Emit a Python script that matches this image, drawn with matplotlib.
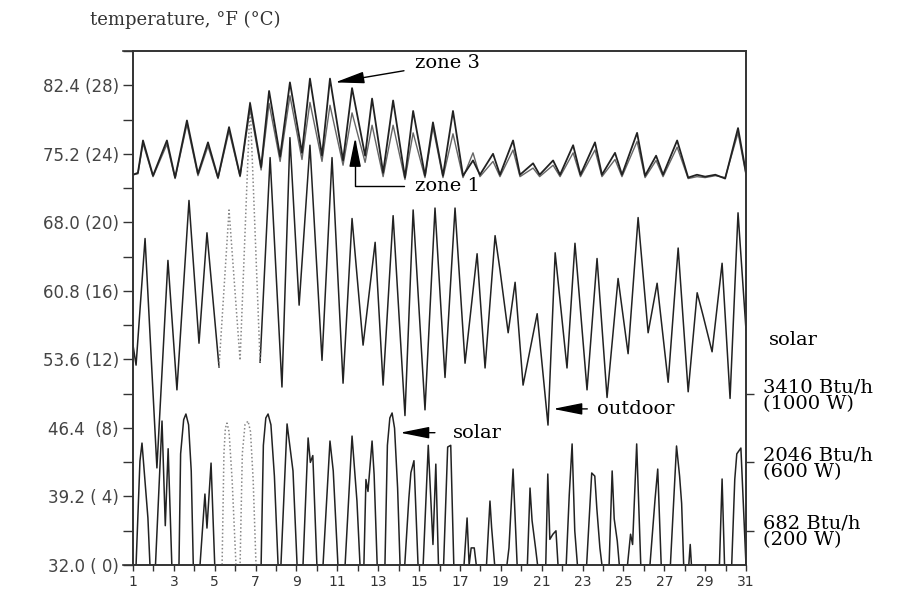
import numpy as np
import matplotlib
matplotlib.use("Agg")
import matplotlib.pyplot as plt

# ─── data ────────────────────────────────────────────────────────────────────

# outdoor temperature, °F (daily peaks / troughs)
outdoor_day = [1.00, 1.15, 1.59, 2.17, 2.71, 3.15, 3.74, 4.23, 4.62, 5.21,
               5.70, 6.24, 6.73, 7.22, 7.71, 8.29, 8.68, 9.13, 9.66, 10.25,
               10.74, 11.28, 11.72, 12.26, 12.85, 13.24, 13.73, 14.31, 14.71, 15.29,
               15.78, 16.27, 16.76, 17.25, 17.84, 18.23, 18.72, 18.96, 19.36, 19.70,
               20.09, 20.78, 21.31, 21.66, 22.24, 22.63, 23.22, 23.71, 24.20, 24.74,
               25.23, 25.72, 26.21, 26.65, 27.19, 27.68, 28.17, 28.61, 28.90, 29.34,
               29.83, 30.22, 30.61, 31.00]
outdoor_temp = [55.1, 53.0, 66.3, 42.2, 64.0, 50.4, 70.3, 55.3, 66.9, 52.8,
                69.3, 53.5, 80.6, 53.3, 74.8, 50.7, 76.9, 59.3, 76.1, 53.5,
                74.8, 51.1, 68.4, 55.1, 65.9, 50.9, 68.7, 47.7, 69.3, 48.3,
                69.5, 51.7, 69.5, 53.2, 64.7, 52.7, 66.6, 63.0, 56.4, 61.7,
                50.9, 58.4, 46.7, 64.8, 52.7, 65.8, 50.4, 64.2, 49.6, 62.1,
                54.2, 68.5, 56.4, 61.6, 51.2, 65.3, 50.2, 60.6, 58.2, 54.4,
                63.7, 49.5, 69.0, 56.7]

# zone temperatures, °F
zone_day = [1.00, 1.24, 1.49, 1.98, 2.66, 3.06, 3.64, 4.18, 4.67, 5.16,
            5.70, 6.24, 6.73, 7.27, 7.66, 8.20, 8.68, 9.27, 9.66, 10.25,
            10.64, 11.28, 11.72, 12.36, 12.70, 13.24, 13.73, 14.31, 14.71, 15.29,
            15.68, 16.17, 16.66, 17.15, 17.64, 17.98, 18.62, 18.96, 19.60, 19.94,
            20.58, 20.90, 21.56, 21.90, 22.54, 22.90, 23.61, 23.95, 24.59, 24.93,
            25.67, 26.06, 26.60, 26.94, 27.63, 28.17, 28.60, 29.00, 29.50, 29.98,
            30.61, 31.00]
zone3_temp = [73.0, 73.2, 76.6, 72.9, 76.6, 72.7, 78.7, 73.1, 76.4, 72.7,
              78.0, 72.9, 80.5, 73.8, 81.8, 74.9, 82.7, 75.3, 83.1, 75.0,
              83.1, 74.5, 82.1, 75.0, 81.0, 73.2, 80.8, 72.7, 79.7, 72.9,
              78.5, 72.9, 79.7, 72.9, 74.5, 73.0, 75.2, 73.0, 76.6, 73.0,
              74.2, 73.0, 74.5, 73.0, 76.1, 73.0, 76.4, 73.0, 75.3, 73.0,
              77.4, 72.9, 75.0, 73.0, 76.6, 72.7, 73.0, 72.8, 73.0, 72.6,
              77.9, 73.2]
zone1_temp = [73.0, 73.1, 76.3, 72.8, 76.2, 72.6, 78.3, 72.9, 76.0, 72.6,
              77.6, 72.8, 80.0, 73.5, 80.5, 74.4, 81.3, 74.6, 80.6, 74.4,
              80.3, 74.0, 79.5, 74.3, 78.2, 72.8, 78.2, 72.5, 77.4, 72.7,
              78.0, 72.7, 77.3, 72.7, 75.3, 72.8, 74.4, 72.8, 75.6, 72.8,
              73.7, 72.8, 74.0, 72.8, 75.3, 72.8, 75.6, 72.8, 74.6, 72.8,
              76.5, 72.7, 74.5, 72.8, 75.9, 72.6, 72.8, 72.7, 72.9, 72.7,
              77.4, 73.0]

# solar radiation, W
solar_day = [1.00, 1.15, 1.34, 1.44, 1.73, 1.83,
             2.10, 2.42, 2.58, 2.72, 2.90,
             3.25, 3.33, 3.48, 3.59, 3.72, 3.85, 3.95,
             4.28, 4.52, 4.62, 4.82, 5.00,
             5.36, 5.45, 5.52, 5.60, 5.70, 5.85, 6.04,
             6.24, 6.35, 6.48, 6.63, 6.75, 6.88, 7.02,
             7.27, 7.38, 7.50, 7.61, 7.75, 7.92, 8.10,
             8.24, 8.54, 8.83, 9.03,
             9.32, 9.57, 9.68, 9.80, 10.00,
             10.30, 10.64, 10.80, 11.03,
             11.38, 11.72, 11.96, 12.11,
             12.30, 12.40, 12.50, 12.70, 12.80, 12.95,
             13.33, 13.45, 13.57, 13.68, 13.80, 13.95, 14.07,
             14.30, 14.50, 14.60, 14.75, 14.95,
             15.20, 15.45, 15.68, 15.82, 15.95,
             16.20, 16.40, 16.55, 16.70,
             17.20, 17.35, 17.45, 17.55, 17.70, 17.80,
             18.30, 18.47, 18.55, 18.70,
             19.30, 19.40, 19.60, 19.80,
             20.30, 20.43, 20.53, 20.70, 20.80,
             21.20, 21.30, 21.40, 21.55, 21.70, 21.80,
             22.20, 22.35, 22.49, 22.62, 22.75,
             23.20, 23.45, 23.60, 23.70, 23.85, 23.95,
             24.30, 24.45, 24.55, 24.70, 24.80,
             25.20, 25.35, 25.45, 25.65, 25.85,
             26.30, 26.55, 26.68, 26.85,
             27.30, 27.60, 27.75, 27.85, 27.95,
             28.20, 28.27, 28.33,
             29.70, 29.83, 29.95,
             30.30, 30.45, 30.55, 30.75, 31.00]
solar_w = [0, 0, 608, 713, 275, 0,
           0, 842, 230, 680, 0,
           0, 650, 850, 883, 820, 550, 0,
           0, 415, 216, 596, 0,
           0, 650, 800, 830, 780, 500, 0,
           0, 650, 820, 842, 780, 500, 0,
           0, 700, 860, 883, 820, 520, 0,
           0, 825, 550, 0,
           0, 743, 600, 640, 0,
           0, 725, 550, 0,
           0, 754, 374, 0,
           0, 500, 430, 725, 530, 0,
           0, 700, 860, 889, 800, 450, 0,
           0, 390, 540, 610, 0,
           0, 700, 120, 590, 0,
           0, 690, 700, 0,
           0, 275, 0, 100, 100, 0,
           0, 374, 220, 0,
           0, 100, 561, 0,
           0, 450, 260, 100, 0,
           0, 532, 150, 180, 200, 0,
           0, 410, 708, 200, 0,
           0, 538, 520, 330, 100, 0,
           0, 550, 270, 140, 0,
           0, 180, 120, 708, 0,
           0, 386, 561, 0,
           0, 696, 520, 360, 0,
           0, 120, 0,
           0, 503, 0,
           0, 500, 650, 684, 0]

# days with missing (dotted) records
gap_outdoor = (5.21, 7.22)
gap_solar = (5.00, 7.27)

# axis ticks
temp_ticks = [32.0, 39.2, 46.4, 53.6, 60.8, 68.0, 75.2, 82.4]
temp_labels = ["32.0 ( 0)", "39.2 ( 4)", "46.4  (8)", "53.6 (12)",
               "60.8 (16)", "68.0 (20)", "75.2 (24)", "82.4 (28)"]
day_ticks = list(range(1, 32, 2))
solar_ticks = [200, 600, 1000]
solar_labels = ["682 Btu/h\n(200 W)", "2046 Btu/h\n(600 W)", "3410 Btu/h\n(1000 W)"]

# ─── figure ──────────────────────────────────────────────────────────────────

W, H = 902, 595
fig = plt.figure(figsize=(W / 100, H / 100), dpi=100)
ax = fig.add_axes([133 / W, 1 - 565 / H, 613 / W, 514 / H])
ax2 = ax.twinx()

ink = "#222222"
serif = "DejaVu Serif"


def split_gap(days, vals, gap):
    days = np.asarray(days)
    vals = np.asarray(vals, dtype=float)
    lo, hi = gap
    a = days <= lo
    b = (days >= lo) & (days <= hi)
    c = days >= hi
    return (days[a], vals[a]), (days[b], vals[b]), (days[c], vals[c])


# outdoor
pre, mid, post = split_gap(outdoor_day, outdoor_temp, gap_outdoor)
for d, v in (pre, post):
    ax.plot(d, v, color=ink, lw=1.1)
ax.plot(*mid, color="#888888", lw=1.1, ls=(0, (1, 1.5)))

# zones
ax.plot(zone_day, zone1_temp, color="#666666", lw=1.0)
ax.plot(zone_day, zone3_temp, color=ink, lw=1.3)

# solar on the right scale
pre, mid, post = split_gap(solar_day, solar_w, gap_solar)
for d, v in (pre, post):
    ax2.plot(d, v, color=ink, lw=1.1)
ax2.plot(*mid, color="#888888", lw=1.1, ls=(0, (1, 1.5)))

# ─── axes styling ────────────────────────────────────────────────────────────

ax.set_xlim(1, 31)
ax.set_ylim(32, 85.93)
ax2.set_ylim(0, 3006)

ax.set_xticks(day_ticks)
ax.set_xticks(range(2, 31, 2), minor=True)
ax.set_yticks(temp_ticks)
ax.set_yticklabels(temp_labels)
ax.set_yticks([t + 3.6 for t in temp_ticks], minor=True)
ax.tick_params(axis="y", which="both", direction="out", length=7, width=1,
               labelsize=12, labelcolor="#444444", color="#333333", pad=3)
ax.tick_params(axis="x", which="both", direction="out", length=4, width=1,
               labelsize=10, labelcolor="#333333", color="#333333", pad=3)

ax2.set_yticks(solar_ticks)
ax2.set_yticklabels(solar_labels)
ax2.tick_params(axis="y", direction="out", length=6, width=1, labelsize=14,
                color="#333333", pad=6)
for lab in ax2.get_yticklabels():
    lab.set_family(serif)
    lab.set_linespacing(0.9)

for a in (ax, ax2):
    for s in a.spines.values():
        s.set_color("#333333")
        s.set_linewidth(1.2)

# frame lines run a little past the left axis, as in the print
for yy in (0, 1):
    ax.plot([-0.016, 0], [yy, yy], transform=ax.transAxes, color="#333333",
            lw=1.2, clip_on=False)

# ─── texts and arrows ────────────────────────────────────────────────────────

fig.text(90 / W, 1 - 20 / H, "temperature, °F (°C)", family=serif, fontsize=13,
         color="#333333", va="center")
fig.text(769 / W, 1 - 340 / H, "solar", family=serif, fontsize=14, va="center")

head = "-|>,head_length=0.9,head_width=0.18"
txt = dict(family=serif, fontsize=14, va="center", ha="left")

ax.annotate("zone 3", xy=(10.89, 82.7), xytext=(14.80, 84.7),
            arrowprops=dict(arrowstyle=head, mutation_scale=20, color="black",
                            lw=1, shrinkA=6, shrinkB=0), **txt)
ax.annotate("zone 1", xy=(11.87, 76.9), xytext=(14.80, 71.8),
            arrowprops=dict(arrowstyle=head, mutation_scale=20, color="black",
                            lw=1, shrinkA=6, shrinkB=0,
                            connectionstyle="angle,angleA=0,angleB=90,rad=0"), **txt)
ax.annotate("outdoor", xy=(21.56, 48.4), xytext=(23.71, 48.4),
            arrowprops=dict(arrowstyle=head, mutation_scale=20, color="black",
                            lw=1, shrinkA=5, shrinkB=0), **txt)
ax.annotate("solar", xy=(14.07, 45.9), xytext=(16.66, 45.9),
            arrowprops=dict(arrowstyle=head, mutation_scale=20, color="black",
                            lw=1, shrinkA=11, shrinkB=0), **txt)

fig.savefig("out.png", dpi=100)
